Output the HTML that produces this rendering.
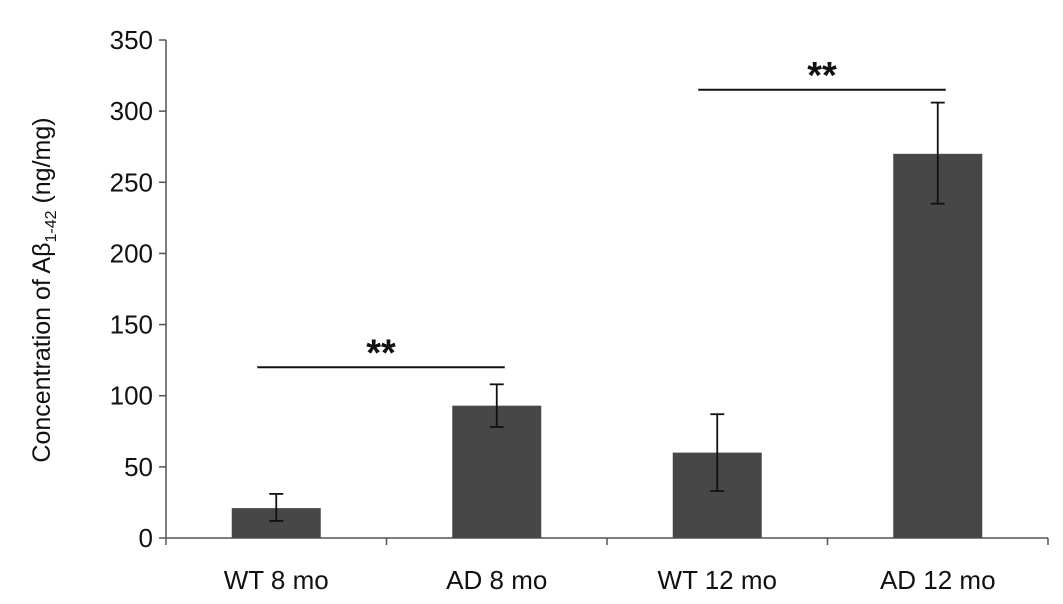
<!DOCTYPE html>
<html><head><meta charset="utf-8"><style>
html,body{margin:0;padding:0;background:#fff;}
svg{display:block;font-family:"Liberation Sans",Arial,sans-serif;}
</style></head><body>
<svg id="chart" width="1063" height="604" viewBox="0 0 1063 604" xmlns="http://www.w3.org/2000/svg">
<g id="plot"></g>
</svg>
<script>
const categories = ["WT 8 mo","AD 8 mo","WT 12 mo","AD 12 mo"];
const values = [21, 93, 60, 270];
const errHigh = [31, 108, 87, 306];
const errLow = [12, 78, 33, 235];
const yTicks = [0,50,100,150,200,250,300,350];
const sigPairs = [[0,1,120,"**"],[2,3,315,"**"]];

const NS="http://www.w3.org/2000/svg";
const g=document.getElementById('plot');
const x0=166, x1=1048, y0=538, yTop=40, yMax=350;
const band=(x1-x0)/categories.length, barW=89;
function yScale(v){return y0-(v/yMax)*(y0-yTop);}
function xCenter(i){return x0+band*(i+0.5);}
function mk(tag,attrs,parent){const e=document.createElementNS(NS,tag);for(const k in attrs)e.setAttribute(k,attrs[k]);(parent||g).appendChild(e);return e;}

let ax=mk('line',{x1:x0,y1:yScale(yMax),x2:x0,y2:y0,stroke:'#555','stroke-width':1.5});


let xa=mk('line',{x1:x0,y1:y0,x2:x1,y2:y0,stroke:'#555','stroke-width':1.5});



yTicks.forEach(t=>{
  const y=yScale(t);
  const l=mk('line',{x1:x0-7,y1:y,x2:x0,y2:y,stroke:'#555','stroke-width':1.5});
  
  
  const tx=mk('text',{x:x0-13,y:y+9,'text-anchor':'end','font-size':26,fill:'#111'});
  tx.textContent=t;
  
  
});
for(let i=0;i<=categories.length;i++){
  const x=x0+band*i;
  const l=mk('line',{x1:x,y1:y0,x2:x,y2:y0+7,stroke:'#555','stroke-width':1.5});
  
  
}
categories.forEach((c,i)=>{
  const cx=xCenter(i);
  const r=mk('rect',{x:cx-barW/2,y:yScale(values[i]),width:barW,height:y0-yScale(values[i]),fill:'#474747'});
  
  
  const eg=mk('g',{stroke:'#111','stroke-width':1.8});
  
  
  mk('line',{x1:cx,y1:yScale(errHigh[i]),x2:cx,y2:yScale(errLow[i])},eg);
  mk('line',{x1:cx-7,y1:yScale(errHigh[i]),x2:cx+7,y2:yScale(errHigh[i])},eg);
  mk('line',{x1:cx-7,y1:yScale(errLow[i]),x2:cx+7,y2:yScale(errLow[i])},eg);
  const tx=mk('text',{x:cx,y:589,'text-anchor':'middle','font-size':26,fill:'#111'});
  tx.textContent=c;
  
  
});
sigPairs.forEach(p=>{
  const xa=xCenter(p[0])-19, xb=xCenter(p[1])+8, y=yScale(p[2]);
  const l=mk('line',{x1:xa,y1:y,x2:xb,y2:y,stroke:'#111','stroke-width':2});
  
  
  const t=mk('text',{x:(xa+xb)/2,y:y-2,'text-anchor':'middle','font-size':38,'font-weight':'bold',fill:'#111'});
  t.textContent=p[3];
  
  
});
const yl=mk('text',{x:0,y:0,transform:'translate(50,290) rotate(-90)','text-anchor':'middle','font-size':25,fill:'#111'});


yl.innerHTML='Concentration of Aβ<tspan font-size="16" dy="6">1-42</tspan><tspan dy="-6"> (ng/mg)</tspan>';
</script>
</body></html>
